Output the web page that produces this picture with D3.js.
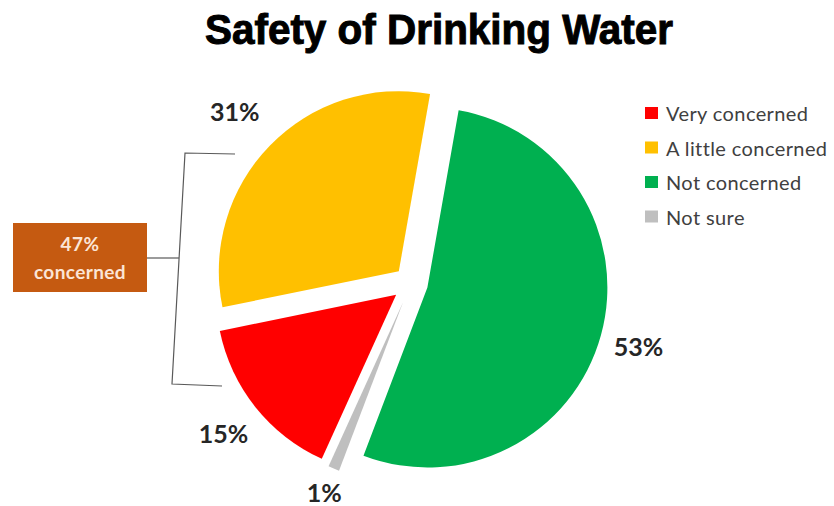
<!DOCTYPE html>
<html><head><meta charset="utf-8">
<script src="https://cdn.jsdelivr.net/npm/d3@7"></script>
<style>html,body{margin:0;padding:0;background:#fff;}svg{display:block;}</style>
</head><body>
<svg id="chart" width="834" height="506"></svg>
<script>
// data
const categories = ["Very concerned", "A little concerned", "Not concerned", "Not sure"];
const values = [15, 31, 53, 1];
const colors = ["#FF0000", "#FFC000", "#00B050", "#BFBFBF"];
const pieOrder = ["Not concerned", "Not sure", "Very concerned", "A little concerned"];
const explode = {"Not concerned": 17, "Not sure": 21, "Very concerned": 19, "A little concerned": 17};
const labelRadius = {"Not concerned": 236, "Not sure": 226, "Very concerned": 240, "A little concerned": 246};
const title = "Safety of Drinking Water";
const calloutLines = ["47%", "concerned"];

const svg = d3.select("#chart");
const cx = 411, cy = 283, R = 180;

svg.append("text")
  .attr("x", 439).attr("y", 44)
  .attr("text-anchor", "middle")
  .attr("font-family", "Liberation Sans, Arial, sans-serif")
  .attr("font-weight", "900")
  .attr("font-size", 42)
  .attr("textLength", 468)
  .attr("lengthAdjust", "spacingAndGlyphs")
  .attr("stroke", "#000").attr("stroke-width", 1)
  .attr("fill", "#000")
  .text(title);

const data = pieOrder.map(n => ({name: n, value: values[categories.indexOf(n)], color: colors[categories.indexOf(n)]}));
const a0 = 10 * Math.PI / 180;
const pie = d3.pie().sort(null).value(d => d.value).startAngle(a0).endAngle(a0 + 2 * Math.PI);
const arcs = pie(data);
const arc = d3.arc().innerRadius(0).outerRadius(R);

const g = svg.append("g").attr("transform", `translate(${cx},${cy})`);
g.selectAll("path.slice").data(arcs).join("path")
  .attr("class", "slice")
  .attr("d", arc)
  .attr("fill", d => d.data.color)
  .attr("transform", d => {
    const m = (d.startAngle + d.endAngle) / 2, o = explode[d.data.name];
    return `translate(${o * Math.sin(m)},${-o * Math.cos(m)})`;
  });

g.selectAll("text.lbl").data(arcs).join("text")
  .attr("class", "lbl")
  .attr("transform", d => {
    const r = labelRadius[d.data.name];
    return `translate(${d3.arc().innerRadius(r).outerRadius(r).centroid(d)})`;
  })
  .attr("text-anchor", "middle")
  .attr("dominant-baseline", "central")
  .attr("font-family", "Lato, sans-serif")
  .attr("font-weight", "bold")
  .attr("font-size", 25)
  .attr("fill", "#262626")
  .text(d => d.data.value + "%");

// legend
const lg = svg.append("g").attr("transform", "translate(645,113)");
const rows = lg.selectAll("g").data(categories).join("g")
  .attr("transform", (d, i) => `translate(0,${i * 34.5})`);
rows.append("rect").attr("x", 0).attr("y", -6).attr("width", 13).attr("height", 12)
  .attr("fill", (d, i) => colors[i]);
rows.append("text").attr("x", 21).attr("y", 0)
  .attr("dominant-baseline", "central")
  .attr("font-family", "Lato, sans-serif")
  .attr("font-size", 20)
  .attr("letter-spacing", 0.4)
  .attr("fill", "#404040")
  .text(d => d);

// bracket
const line = d3.line();
svg.append("path")
  .attr("d", line([[235, 154], [185, 153], [172, 384], [222, 386]]))
  .attr("fill", "none").attr("stroke", "#595959").attr("stroke-width", 1.2);
svg.append("path")
  .attr("d", line([[147, 258], [179, 258]]))
  .attr("fill", "none").attr("stroke", "#595959").attr("stroke-width", 1.2);

// callout box
svg.append("rect").attr("x", 13).attr("y", 223).attr("width", 134).attr("height", 69)
  .attr("fill", "#C55A11");
svg.append("g").selectAll("text").data(calloutLines).join("text")
  .attr("x", 80).attr("y", (d, i) => 243 + i * 28)
  .attr("text-anchor", "middle")
  .attr("dominant-baseline", "central")
  .attr("font-family", "Lato, sans-serif")
  .attr("font-weight", "bold")
  .attr("font-size", 19)
  .attr("letter-spacing", 0.4)
  .attr("fill", "#FBE5D6")
  .text(d => d);
</script>
</body></html>
